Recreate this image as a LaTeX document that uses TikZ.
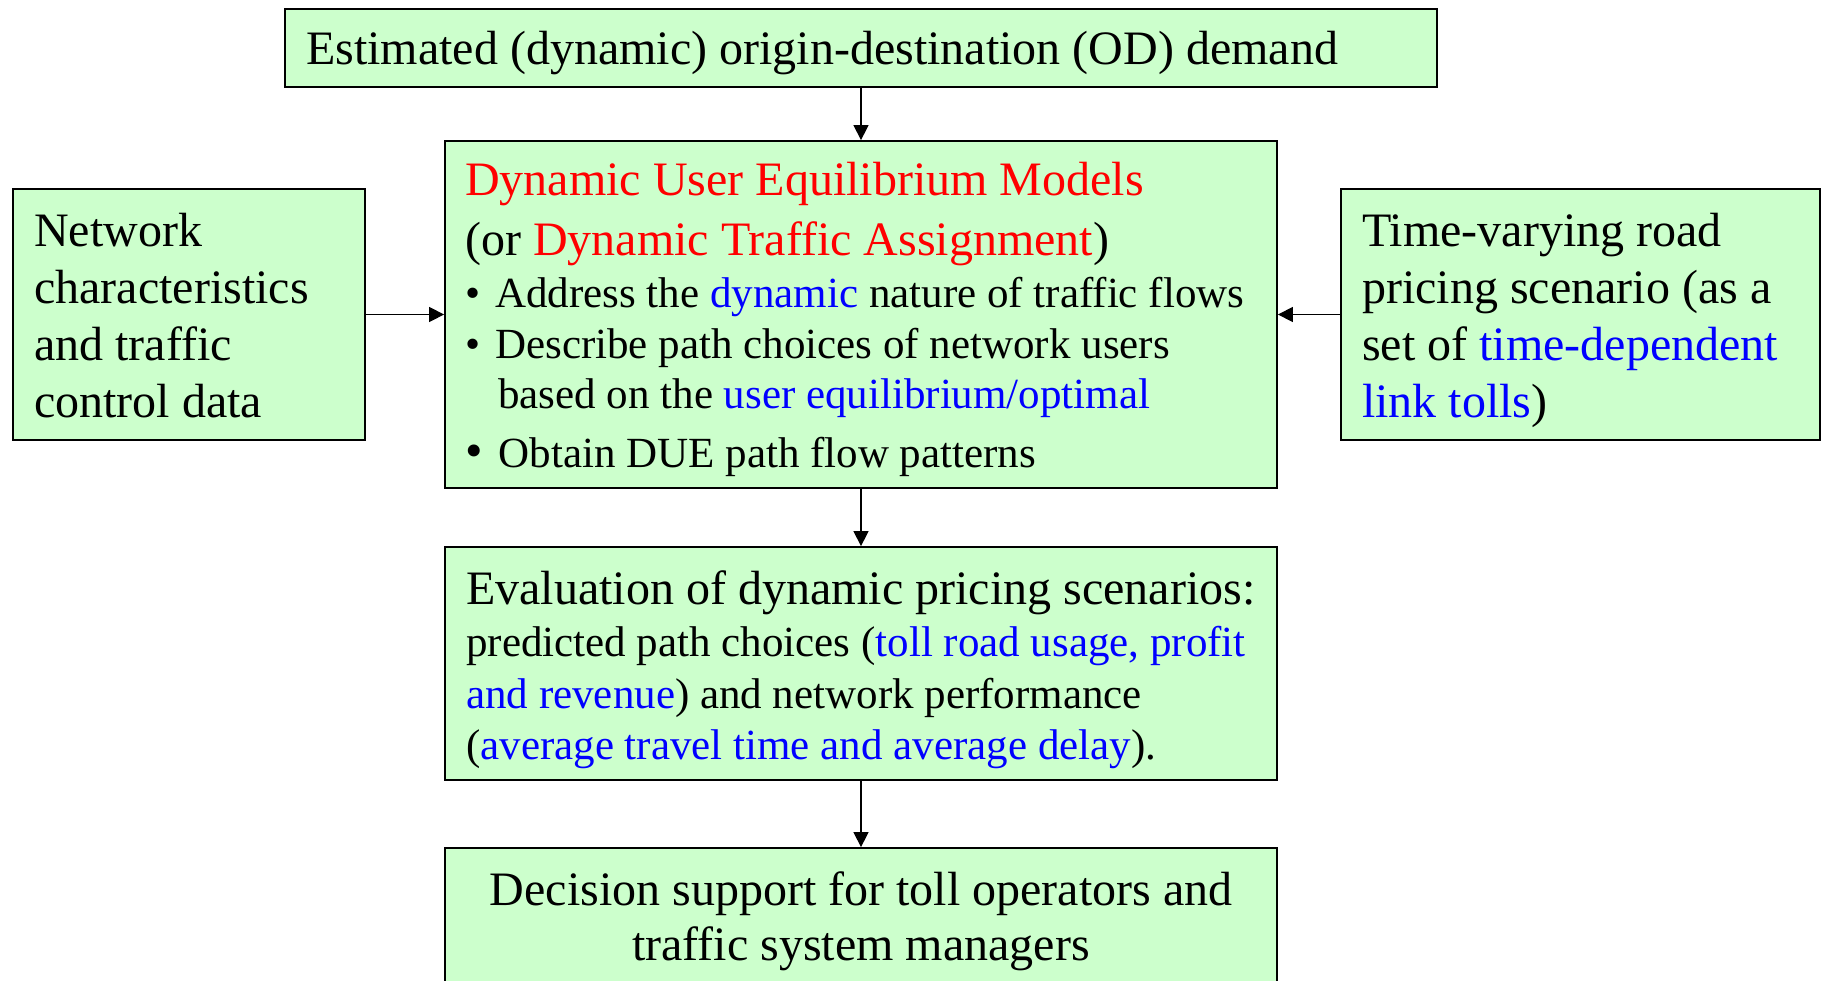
\documentclass[tikz,border=0pt]{standalone}
\usepackage{fontspec}
\setmainfont{Liberation Serif}
\usetikzlibrary{arrows.meta}
\definecolor{boxgreen}{HTML}{CCFFCC}
\definecolor{hred}{HTML}{FF0000}
\definecolor{hblue}{HTML}{0000FF}
\newcommand\mystrut{\spaceskip=0pt\xspaceskip=0pt\relax\rule{0pt}{40pt}}
\newcommand\bigtxt{\fontsize{48}{58}\selectfont}
\setlength\parindent{0pt}
\begin{document}
\begin{tikzpicture}[x=1pt,y=-1pt,
  box/.style={draw=black,line width=1.8pt,fill=boxgreen,inner sep=0pt},
  txt/.style={inner sep=0pt,anchor=north west,align=left},
  big/.style={font={\fontsize{48}{57}\selectfont\lineskiplimit=-100pt}},
  small/.style={font={\fontsize{43}{#1}\selectfont\lineskiplimit=-100pt}},
  arr/.style={line width=1.4pt,-{Triangle[length=15pt,width=15pt]}}]
\useasboundingbox (0,0) rectangle (1822,980);
\clip (0,0) rectangle (1822,980);
% boxes
\node[box,minimum width=1152pt,minimum height=78pt] (od) at (861,48) {};
\node[box,minimum width=832pt,minimum height=347pt] (due) at (861,314.5) {};
\node[box,minimum width=352pt,minimum height=251pt] (net) at (189,314.5) {};
\node[box,minimum width=479pt,minimum height=251pt] (toll) at (1580.5,314.5) {};
\node[box,minimum width=832pt,minimum height=233pt] (eval) at (861,663.5) {};
\node[box,minimum width=832pt,minimum height=142pt] (dec) at (861,919) {};
% texts
\node[txt,big,text width=1120pt] (odt) at (306,24)
  {\mystrut Estimated (dynamic) origin-destination (OD) demand};
\node[txt,big,text width=340pt] (nett) at (34,206)
  {\mystrut Network\\ characteristics\\ and traffic\\ control data};
\node[txt,big,text width=455pt] (tollt) at (1362,206)
  {\mystrut Time-varying road\\ pricing scenario (as a\\ set of \textcolor{hblue}{time-dependent}\\ \textcolor{hblue}{link tolls})};
\node[txt,small=50,text width=830pt] (duet) at (465,155)
  {\mystrut{\bigtxt\textcolor{hred}{Dynamic User Equilibrium Models}}\\[10pt]
   {\bigtxt(or \textcolor{hred}{Dynamic Traffic Assignment})}\\[2pt]
   \textbullet\hspace{15pt}Address the \textcolor{hblue}{dynamic} nature of traffic flows\\[1pt]
   \textbullet\hspace{15pt}Describe path choices of network users\\
   \hspace*{33pt}based on the \textcolor{hblue}{user equilibrium/optimal}\\[9pt]
   {\fontsize{50}{50}\selectfont\textbullet}\hspace{16pt}Obtain DUE path flow patterns};
\node[txt,small=51,text width=830pt] (evalt) at (466,564)
  {\mystrut{\bigtxt Evaluation of dynamic pricing scenarios:}\\[1pt]
   predicted path choices (\textcolor{hblue}{toll road usage, profit}\\[1pt]
   \textcolor{hblue}{and revenue}) and network performance\\
   (\textcolor{hblue}{average travel time and average delay}).};
\node[inner sep=0pt,anchor=north,align=center,font={\fontsize{48}{55}\selectfont\lineskiplimit=-100pt}] (dect) at (861,865)
  {\mystrut Decision support for toll operators and\\ traffic system managers};
% connectors
\draw[arr] (od) -- (due);
\draw[arr] (net) -- (due);
\draw[arr] (toll) -- (due);
\draw[arr] (due) -- (eval);
\draw[arr] (eval) -- (dec);
\end{tikzpicture}
\end{document}
